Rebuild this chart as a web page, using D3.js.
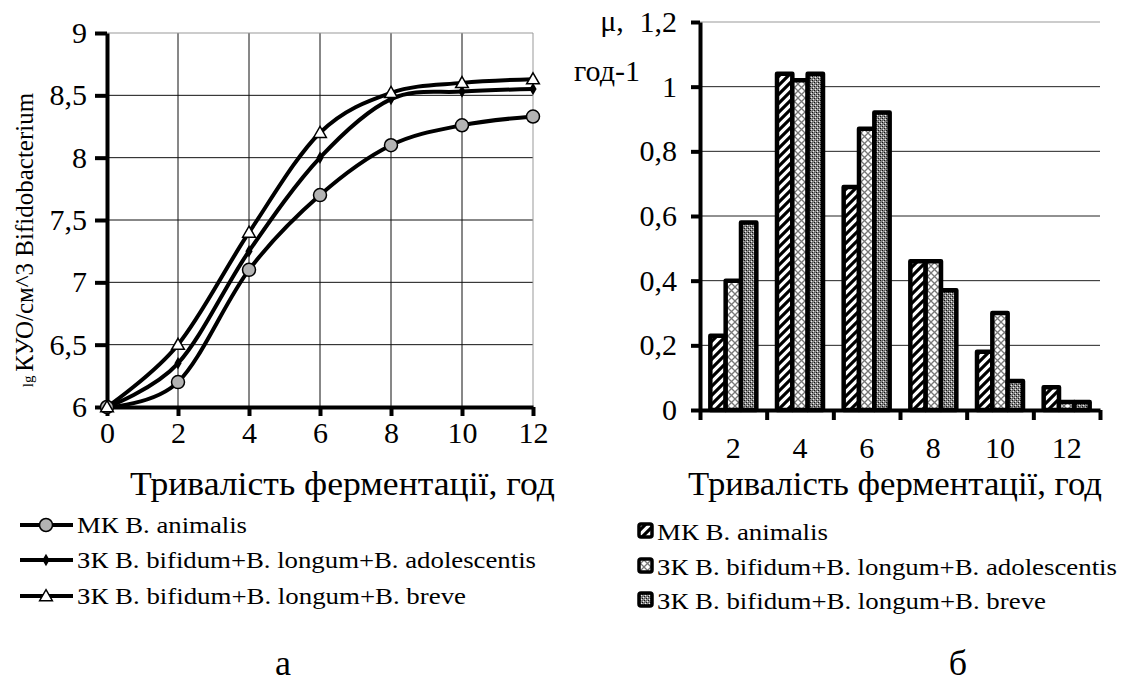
<!DOCTYPE html>
<html><head><meta charset="utf-8">
<script src="https://cdn.jsdelivr.net/npm/d3@7"></script>
<style>svg text, svg tspan { font-family: 'Liberation Serif' !important; }</style>
</head><body style="margin:0">
<svg id="c" width="1126" height="695" font-family="Liberation Serif"></svg>
<script>
// ---- data ----
const timePoints = [0, 2, 4, 6, 8, 10, 12];
const seriesNames = ["МК B. animalis", "ЗК B. bifidum+B. longum+B. adolescentis", "ЗК B. bifidum+B. longum+B. breve"];
const growthAnimalis = [6.0, 6.2, 7.1, 7.7, 8.1, 8.26, 8.33];
const growthAdolescentis = [6.0, 6.35, 7.25, 8.0, 8.47, 8.53, 8.55];
const growthBreve = [6.0, 6.5, 7.4, 8.2, 8.52, 8.6, 8.63];
const leftYTicks = [6, 6.5, 7, 7.5, 8, 8.5, 9];
const rateCategories = ["2", "4", "6", "8", "10", "12"];
const rateAnimalis = [0.23, 1.04, 0.69, 0.46, 0.18, 0.07];
const rateAdolescentis = [0.40, 1.02, 0.87, 0.46, 0.30, 0.025];
const rateBreve = [0.58, 1.04, 0.92, 0.37, 0.09, 0.025];
const rightYTicks = [0, 0.2, 0.4, 0.6, 0.8, 1, 1.2];
const xTitle = "Тривалість ферментації, год";

const FONT = "'Liberation Serif'";
const fmt = v => String(v).replace(".", ",");
const svg = d3.select("#c");
const defs = svg.append("defs");
svg.append("rect").attr("width",1126).attr("height",695).attr("fill","#fff");

// patterns
const p1 = defs.append("pattern").attr("id","pDiag").attr("patternUnits","userSpaceOnUse").attr("width",9).attr("height",9);
p1.append("rect").attr("width",9).attr("height",9).attr("fill","#fff");
p1.append("path").attr("d","M-2,2 L2,-2 M0,9 L9,0 M7,11 L11,7").attr("stroke","#000").attr("stroke-width",3.2);
const p2 = defs.append("pattern").attr("id","pCross").attr("patternUnits","userSpaceOnUse").attr("width",7).attr("height",7);
p2.append("rect").attr("width",7).attr("height",7).attr("fill","#fff");
p2.append("path").attr("d","M0,0 L7,7 M7,0 L0,7").attr("stroke","#777").attr("stroke-width",1.3);
const p3 = defs.append("pattern").attr("id","pDots").attr("patternUnits","userSpaceOnUse").attr("width",4).attr("height",4);
p3.append("rect").attr("width",4).attr("height",4).attr("fill","#8a8a8a");
[[0,0,"#111"],[2,2,"#111"],[1,3,"#eee"],[3,1,"#eee"],[0,2,"#555"],[2,0,"#555"]].forEach(([x,y,c])=>p3.append("rect").attr("x",x).attr("y",y).attr("width",1).attr("height",1).attr("fill",c));
const patterns = ["url(#pDiag)","url(#pCross)","url(#pDots)"];

// ================= LEFT CHART =================
const L = {x0:107, x1:533, y0:407, y1:33};
const xL = d3.scaleLinear().domain([0,12]).range([L.x0,L.x1]);
const yL = d3.scaleLinear().domain([6,9]).range([L.y0,L.y1]);
const gL = svg.append("g");

gL.selectAll(".vg").data(timePoints.filter(d=>d>0&&d<12)).join("line")
  .attr("x1",d=>xL(d)).attr("x2",d=>xL(d)).attr("y1",L.y1).attr("y2",L.y0).attr("stroke","#111").attr("stroke-width",1);
gL.selectAll(".hg").data(leftYTicks.filter(d=>d>6&&d<9)).join("line")
  .attr("x1",L.x0).attr("x2",L.x1).attr("y1",d=>yL(d)).attr("y2",d=>yL(d)).attr("stroke","#111").attr("stroke-width",1);
gL.append("line").attr("x1",L.x0).attr("x2",L.x1).attr("y1",yL(9)).attr("y2",yL(9)).attr("stroke","#999");
gL.append("line").attr("x1",xL(12)).attr("x2",xL(12)).attr("y1",L.y1).attr("y2",L.y0).attr("stroke","#999");

const axYL = gL.append("g").attr("transform",`translate(${L.x0},0)`)
  .call(d3.axisLeft(yL).tickValues(leftYTicks).tickFormat(fmt).tickSize(12).tickSizeOuter(0).tickPadding(8));
const axXL = gL.append("g").attr("transform",`translate(0,${L.y0})`)
  .call(d3.axisBottom(xL).tickValues(timePoints).tickFormat(fmt).tickSize(9).tickSizeOuter(0).tickPadding(6));
[axYL, axXL].forEach(a=>{
  a.attr("font-family","Liberation Serif").attr("font-size",null);
  a.select(".domain").attr("stroke","#000").attr("stroke-width",4);
  a.selectAll(".tick line").attr("stroke","#000").attr("stroke-width",4);
  a.selectAll(".tick text").style("font-size","30px").attr("fill","#000");
});

const lineGen = d3.line().x((d,i)=>xL(timePoints[i])).y(d=>yL(d)).curve(d3.curveCardinal.tension(0));
const growth = [growthAnimalis, growthAdolescentis, growthBreve];
growth.forEach(s=>{
  gL.append("path").attr("d",lineGen(s)).attr("fill","none").attr("stroke","#000").attr("stroke-width",4);
});
function marker(g, k, x, y){
  if(k===0) g.append("circle").attr("cx",x).attr("cy",y).attr("r",6.5).attr("fill","#b3b3b3").attr("stroke","#000").attr("stroke-width",1.5);
  else if(k===1) g.append("path").attr("d",d3.symbol(d3.symbolDiamond,45)()).attr("transform",`translate(${x},${y})`).attr("fill","#000");
  else g.append("path").attr("d",d3.symbol(d3.symbolTriangle,70)()).attr("transform",`translate(${x},${y+1})`).attr("fill","#fff").attr("stroke","#000").attr("stroke-width",1.5);
}
growth.forEach((s,k)=>s.forEach((v,i)=>marker(gL,k,xL(timePoints[i]),yL(v))));

const yt = gL.append("text").attr("transform","translate(33,240) rotate(-90)").attr("text-anchor","middle").style("font-size","25px");
yt.append("tspan").text("lg ").style("font-size","15px");
yt.append("tspan").text("КУО/см^3 Bifidobacterium");

gL.append("text").attr("x",130).attr("y",495).attr("textLength",425).attr("lengthAdjust","spacingAndGlyphs").style("font-size","34px").text(xTitle);

const legLW = [170, 459, 389];
seriesNames.forEach((n,k)=>{
  const y = [525,560,596][k];
  gL.append("line").attr("x1",20).attr("x2",73).attr("y1",y).attr("y2",y).attr("stroke","#000").attr("stroke-width",4);
  marker(gL,k,46,y);
  gL.append("text").attr("x",77).attr("y",y+8).attr("textLength",legLW[k]).attr("lengthAdjust","spacingAndGlyphs").style("font-size","24px").text(n);
});
gL.append("text").attr("x",283).attr("y",675).attr("text-anchor","middle").style("font-size","36px").text("а");

// ================= RIGHT CHART =================
const R = {x0:700, x1:1100, y0:410, y1:22};
const xR = d3.scaleBand().domain(rateCategories).range([R.x0,R.x1]).padding(0);
const bw = xR.bandwidth();
const xSub = d3.scaleBand().domain([0,1,2]).range([bw*0.155, bw*0.845]).padding(0);
const yR = d3.scaleLinear().domain([0,1.2]).range([R.y0,R.y1]);
const gR = svg.append("g");

gR.selectAll(".hg").data(rightYTicks.filter(d=>d>0&&d<1.2)).join("line")
  .attr("x1",R.x0).attr("x2",R.x1).attr("y1",d=>yR(d)).attr("y2",d=>yR(d)).attr("stroke","#222").attr("stroke-width",1);
gR.append("line").attr("x1",R.x0).attr("x2",R.x1).attr("y1",yR(1.2)).attr("y2",yR(1.2)).attr("stroke","#999");

const rates = [rateAnimalis, rateAdolescentis, rateBreve];
rateCategories.forEach((c,i)=>{
  rates.forEach((s,k)=>{
    gR.append("rect").attr("x",xR(c)+xSub(k)).attr("y",yR(s[i])).attr("width",xSub.bandwidth()).attr("height",yR(0)-yR(s[i]))
      .attr("fill",patterns[k]).attr("stroke","#000").attr("stroke-width",4.5).attr("stroke-linejoin","round");
  });
});

const axYR = gR.append("g").attr("transform",`translate(${R.x0},0)`)
  .call(d3.axisLeft(yR).tickValues(rightYTicks).tickFormat(fmt).tickSize(9).tickSizeOuter(0).tickPadding(14));
const edgeScale = d3.scaleLinear().domain([0,6]).range([R.x0,R.x1]);
const axXR = gR.append("g").attr("transform",`translate(0,${R.y0})`)
  .call(d3.axisBottom(edgeScale).tickValues(d3.range(7)).tickFormat("").tickSize(10).tickSizeOuter(0));
const axXRl = gR.append("g").attr("transform",`translate(0,${R.y0})`)
  .call(d3.axisBottom(xR).tickSize(0).tickPadding(27));
axXRl.select(".domain").remove();
[axYR, axXR, axXRl].forEach(a=>a.attr("font-family","Liberation Serif").attr("font-size",null));
[axYR, axXR].forEach(a=>{
  a.select(".domain").attr("stroke","#000").attr("stroke-width",4);
  a.selectAll(".tick line").attr("stroke","#000").attr("stroke-width",4);
});
[axYR, axXRl].forEach(a=>a.selectAll(".tick text").style("font-size","30px").attr("fill","#000"));

gR.append("text").attr("x",612).attr("y",31).attr("text-anchor","middle").style("font-size","30px").text("μ,");
gR.append("text").attr("x",607).attr("y",81).attr("text-anchor","middle").style("font-size","30px").text("год-1");

gR.append("text").attr("x",688).attr("y",495).attr("textLength",414).attr("lengthAdjust","spacingAndGlyphs").style("font-size","34px").text(xTitle);

const legRW = [171, 460, 389];
seriesNames.forEach((n,k)=>{
  const y = [532,567,601][k];
  gR.append("rect").attr("x",639).attr("y",y-8).attr("width",13).attr("height",13).attr("rx",2)
    .attr("fill",patterns[k]).attr("stroke","#000").attr("stroke-width",3.5);
  gR.append("text").attr("x",657).attr("y",y+8).attr("textLength",legRW[k]).attr("lengthAdjust","spacingAndGlyphs").style("font-size","24px").text(n);
});
gR.append("text").attr("x",958).attr("y",675).attr("text-anchor","middle").style("font-size","36px").text("б");

svg.selectAll("text").attr("font-family","Liberation Serif").style("font-family", FONT).style("fill","#000");
</script>
</body></html>
